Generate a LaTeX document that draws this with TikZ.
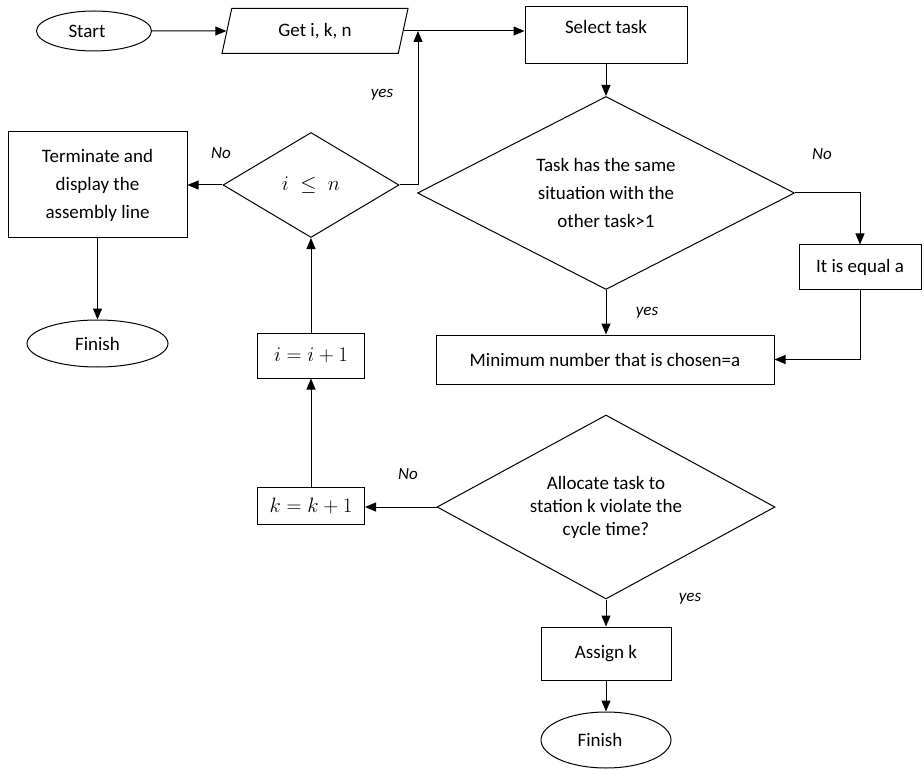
\documentclass[tikz,border=0pt]{standalone}
\usepackage{amsmath}
\usepackage{fontspec}
\setmainfont{Carlito}
\usepackage{tikz}
\usetikzlibrary{arrows.meta, shapes.geometric}

\begin{document}
\begin{tikzpicture}[x=1pt, y=-1pt, font=\fontsize{19}{28}\selectfont,
  >={Triangle[length=11pt, width=9pt]}, line width=1pt,
  box/.style={draw, inner sep=0pt, align=center},
  term/.style={draw, ellipse, inner sep=0pt},
  io/.style={draw, trapezium, trapezium left angle=58, trapezium right angle=122,
             trapezium stretches body, inner sep=0pt},
  decision/.style={draw, diamond, aspect=1.9, inner sep=0pt, align=center},
  lbl/.style={font=\fontsize{17}{20}\selectfont\itshape}]
  \useasboundingbox (0,0) rectangle (924,770);
  \node[term, minimum width=115pt, minimum height=40pt] (start) at (94,31) {Start\hspace*{14pt}};
  \node[io, minimum width=186pt, minimum height=45pt] (input) at (315,31) {Get i, k, n};
  \node[box, minimum width=162pt, minimum height=57pt, text height=12pt, text depth=15pt]
    (select) at (606,35.5) {Select task};
  \node[decision, minimum width=377pt, minimum height=193pt] (same) at (606,193)
    {Task has the same\\situation with the\\other task>1};
  \node[box, minimum width=122pt, minimum height=44pt] (equal) at (860,267) {It is equal a};
  \node[box, minimum width=338pt, minimum height=49pt] (minnum) at (605,359.5)
    {Minimum number that is chosen=a};
  \node[decision, minimum width=176pt, minimum height=105pt, font=\fontsize{22}{26}\selectfont]
    (check) at (311,185) {$i \;\leq\; n$};
  \node[box, minimum width=179pt, minimum height=106pt] (stop) at (97.5,185)
    {Terminate and\\display the\\assembly line};
  \node[term, minimum width=141pt, minimum height=47pt] (fina) at (97.5,343.5) {Finish};
  \node[box, minimum width=107pt, minimum height=45pt, font=\fontsize{20}{24}\selectfont]
    (iinc) at (311,355.5) {$i = i + 1$};
  \node[box, minimum width=107pt, minimum height=37pt, font=\fontsize{20}{24}\selectfont]
    (kinc) at (311,505.5) {$k = k + 1$};
  \node[decision, minimum width=338pt, minimum height=184pt, font=\fontsize{19}{23}\selectfont]
    (alloc) at (606,507) {Allocate task to\\station k violate the\\cycle time?};
  \node[box, minimum width=130pt, minimum height=53pt] (assign) at (606,653.5) {Assign k};
  \node[term, minimum width=130pt, minimum height=56pt] (finb) at (606,740) {Finish\hspace*{12pt}};
  \coordinate (join) at (418,31);
  \node[lbl] (yesa) at (382,95) {yes};
  \node[lbl] (noa) at (221,153) {No};
  \node[lbl] (nob) at (822,154) {No};
  \node[lbl] (yesb) at (647,313) {yes};
  \node[lbl] (noc) at (408,474) {No};
  \node[lbl] (yesc) at (690,599) {yes};
  \draw[->] (start) -- (input);
  \draw[->] (input.east) -- (input.east -| select.west);
  \draw[->] (select) -- (same);
  \draw[->] (same.east) -| (equal.north);
  \draw[->] (equal.south) |- (minnum.east);
  \draw[->] (same.south) -- (same.south |- minnum.north);
  \draw[->] (alloc.west) -- (alloc.west -| kinc.east);
  \draw[->] (kinc) -- (iinc);
  \draw[->] (iinc) -- (check);
  \draw[->] (check) -- (stop);
  \draw[->] (check.east) -| (join);
  \draw[->] (stop) -- (fina);
  \draw[->] (alloc) -- (assign);
  \draw[->] (assign) -- (finb);
\end{tikzpicture}
\end{document}
